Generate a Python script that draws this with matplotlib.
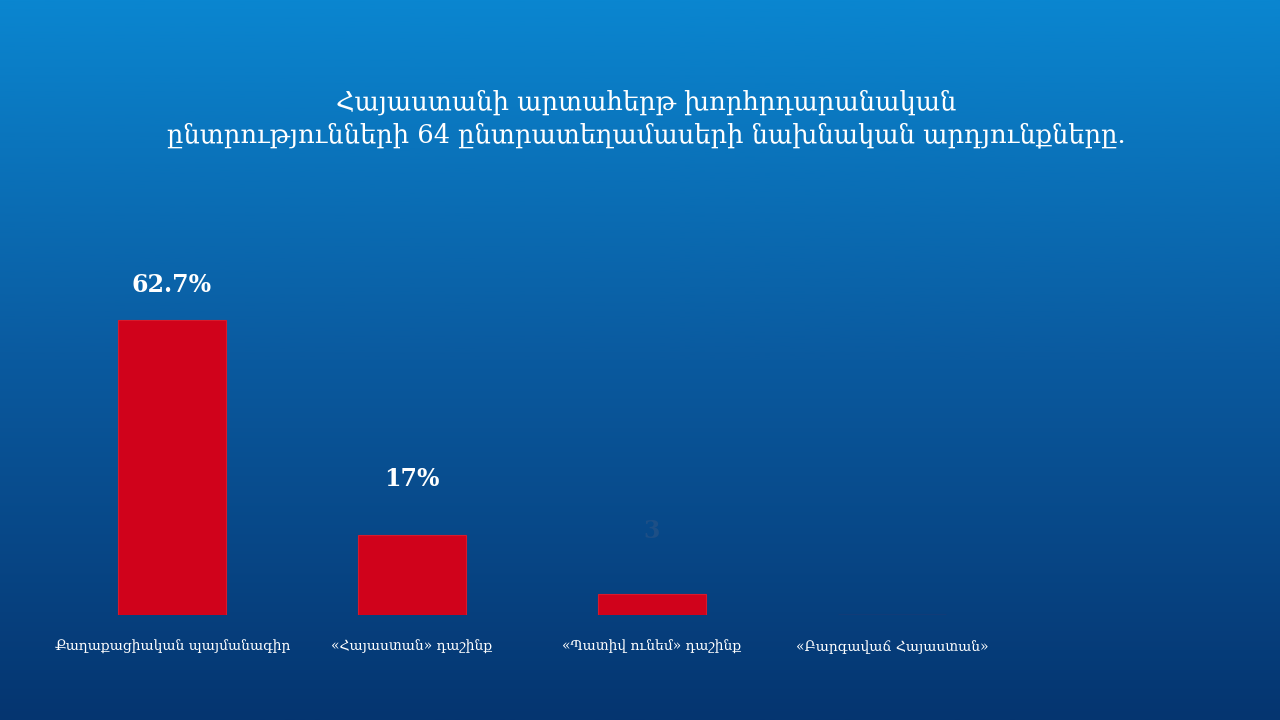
import numpy as np
import matplotlib.pyplot as plt
from matplotlib.colors import LinearSegmentedColormap

# data
parties = ["Քաղաքացիական պայմանագիր", "«Հայաստան» դաշինք",
           "«Պատիվ ունեմ» դաշինք", "«Բարգավաճ Հայաստան»"]
shares = [62.7, 17.0, 4.5, 0.0]
value_labels = ["62.7%", "17%", "3", ""]
label_colors = ["white", "white", "#1d4f86", "white"]
label_offsets = [25, 40, 45, 0]  # points above bar top (label centre)

title = ("Հայաստանի արտահերթ խորհրդարանական\n"
         "ընտրությունների 64 ընտրատեղամասերի նախնական արդյունքները.")

fig = plt.figure(figsize=(12.8, 7.2), dpi=100)

# blue gradient background over the whole figure
bg = fig.add_axes([0, 0, 1, 1], zorder=0)
grad_cmap = LinearSegmentedColormap.from_list(
    "bg", ["#0a86d0", "#0a5a9f", "#053570"])
bg.imshow(np.linspace(0, 1, 256).reshape(-1, 1), aspect="auto",
          cmap=grad_cmap, extent=(0, 1, 0, 1))
bg.set_axis_off()

ax = fig.add_axes([0.0406, 0.1458, 0.75, 0.458], zorder=1)
ax.patch.set_alpha(0)

x = np.arange(len(parties))
bars = ax.bar(x, shares, width=0.45, color="#d0021b", edgecolor="#d81a2c",
              linewidth=0.8)

for rect, lab, col, off in zip(bars, value_labels, label_colors, label_offsets):
    ax.annotate(lab, (rect.get_x() + rect.get_width() / 2, rect.get_height()),
                xytext=(0, off), textcoords="offset points", ha="center",
                va="center", color=col, fontsize=17, fontweight="bold",
                family="DejaVu Serif")

ax.set_xlim(-0.5, 3.5)
ax.set_ylim(0, 70)
ax.set_xticks(x)
ax.set_xticklabels(parties, color="white", fontsize=10,
                   family="DejaVu Serif")
ax.tick_params(axis="x", length=0, pad=18)
ax.set_yticks([])
for s in ax.spines.values():
    s.set_visible(False)

fig.text(0.505, 0.835, title, ha="center", va="center", color="white",
         fontsize=18.5, family="DejaVu Serif", linespacing=1.35)

fig.savefig("out.png", dpi=100)
